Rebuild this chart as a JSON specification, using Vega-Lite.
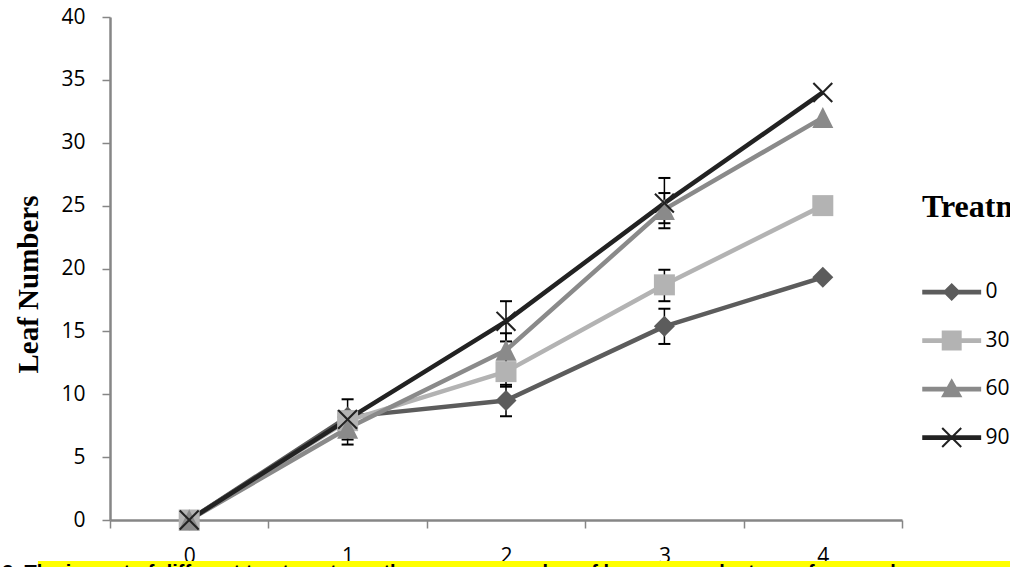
{
  "$schema": "https://vega.github.io/schema/vega-lite/v6.json",
  "autosize": {"type": "none"},
  "width": 792,
  "height": 503,
  "padding": {"left": 110, "top": 17, "right": 108, "bottom": 47},
  "background": "white",
  "config": {
    "view": {"stroke": null},
    "axis": {"grid": false, "domainColor": "#868686", "domainWidth": 2.5, "tickColor": "#868686", "tickWidth": 1.5, "tickSize": 8, "labelFont": "Open Sans", "labelFontSize": 21, "labelColor": "#000000"}
  },
  "datasets": {
    "leaves": [
      {"treatment": "0", "week": 0, "leaves": 0, "lo": null, "hi": null},
      {"treatment": "0", "week": 1, "leaves": 8.2, "lo": null, "hi": null},
      {"treatment": "0", "week": 2, "leaves": 9.5, "lo": 8.25, "hi": 10.75},
      {"treatment": "0", "week": 3, "leaves": 15.4, "lo": 14.0, "hi": 16.8},
      {"treatment": "0", "week": 4, "leaves": 19.3, "lo": null, "hi": null},
      {"treatment": "30", "week": 0, "leaves": 0, "lo": null, "hi": null},
      {"treatment": "30", "week": 1, "leaves": 7.9, "lo": null, "hi": null},
      {"treatment": "30", "week": 2, "leaves": 11.8, "lo": 10.6, "hi": 13.0},
      {"treatment": "30", "week": 3, "leaves": 18.7, "lo": 17.4, "hi": 19.9},
      {"treatment": "30", "week": 4, "leaves": 25.0, "lo": null, "hi": null},
      {"treatment": "60", "week": 0, "leaves": 0, "lo": null, "hi": null},
      {"treatment": "60", "week": 1, "leaves": 7.3, "lo": 6.0, "hi": 8.6},
      {"treatment": "60", "week": 2, "leaves": 13.5, "lo": 12.2, "hi": 14.85},
      {"treatment": "60", "week": 3, "leaves": 24.7, "lo": 23.6, "hi": 26.0},
      {"treatment": "60", "week": 4, "leaves": 32.0, "lo": null, "hi": null},
      {"treatment": "90", "week": 0, "leaves": 0, "lo": null, "hi": null},
      {"treatment": "90", "week": 1, "leaves": 8.0, "lo": 6.4, "hi": 9.6},
      {"treatment": "90", "week": 2, "leaves": 15.8, "lo": 14.2, "hi": 17.4},
      {"treatment": "90", "week": 3, "leaves": 25.2, "lo": 23.2, "hi": 27.2},
      {"treatment": "90", "week": 4, "leaves": 34.0, "lo": null, "hi": null}
    ],
    "caption": [
      {"text": "3. The impact of different treatments on the average number of leaves per plant over four weeks"}
    ]
  },
  "data": {"name": "leaves"},
  "layer": [
    {
      "mark": {"type": "line", "strokeWidth": 4.5, "strokeJoin": "round"},
      "encoding": {
        "x": {
          "field": "week", "type": "quantitative",
          "scale": {"domain": [-0.5, 4.5], "nice": false, "zero": false},
          "axis": {
            "title": null,
            "values": [-0.5, 0.5, 1.5, 2.5, 3.5, 4.5],
            "labelExpr": "datum.value > 4 ? '' : format(datum.value + 0.5, 'd')",
            "labelOffset": 79.2,
            "labelPadding": 17.5,
            "labelFlush": false,
            "labelOverlap": false,
            "labelBound": false
          }
        },
        "y": {
          "field": "leaves", "type": "quantitative",
          "scale": {"domain": [0, 40], "nice": false},
          "axis": {
            "title": "Leaf Numbers",
            "values": [0, 5, 10, 15, 20, 25, 30, 35, 40],
            "labelPadding": 17,
            "titleFont": "Liberation Serif",
            "titleFontSize": 29,
            "titleFontWeight": "bold",
            "titleColor": "#000000",
            "titleAngle": -90,
            "titleBaseline": "alphabetic",
            "titleAlign": "center",
            "titleX": -73,
            "titleY": 267
          }
        },
        "color": {
          "field": "treatment", "type": "nominal",
          "scale": {"domain": ["0", "30", "60", "90"], "range": ["#5c5c5c", "#b3b3b3", "#8a8a8a", "#222222"]},
          "legend": null
        }
      }
    },
    {
      "transform": [{"filter": "isValid(datum.lo)"}],
      "mark": {"type": "rule", "color": "#000000", "strokeWidth": 1.5},
      "encoding": {
        "x": {"field": "week", "type": "quantitative"},
        "y": {"field": "lo", "type": "quantitative"},
        "y2": {"field": "hi"}
      }
    },
    {
      "transform": [{"filter": "isValid(datum.lo)"}],
      "mark": {"type": "tick", "orient": "horizontal", "color": "#000000", "size": 12, "thickness": 2, "opacity": 1},
      "encoding": {
        "x": {"field": "week", "type": "quantitative"},
        "y": {"field": "lo", "type": "quantitative"}
      }
    },
    {
      "transform": [{"filter": "isValid(datum.hi)"}],
      "mark": {"type": "tick", "orient": "horizontal", "color": "#000000", "size": 12, "thickness": 2, "opacity": 1},
      "encoding": {
        "x": {"field": "week", "type": "quantitative"},
        "y": {"field": "hi", "type": "quantitative"}
      }
    },
    {
      "mark": {"type": "point", "filled": true, "opacity": 1, "size": 441, "strokeWidth": 0},
      "encoding": {
        "x": {"field": "week", "type": "quantitative"},
        "y": {"field": "leaves", "type": "quantitative"},
        "color": {"field": "treatment", "type": "nominal", "legend": null},
        "shape": {
          "field": "treatment", "type": "nominal",
          "scale": {
            "domain": ["0", "30", "60", "90"],
            "range": [
              "M0,-1L1,0L0,1L-1,0Z",
              "M-1,-1L1,-1L1,1L-1,1Z",
              "M0,-1L1,1L-1,1Z",
              "M0,-0.14L0.83,-0.97L0.97,-0.83L0.14,0L0.97,0.83L0.83,0.97L0,0.14L-0.83,0.97L-0.97,0.83L-0.14,0L-0.97,-0.83L-0.83,-0.97Z"
            ]
          },
          "legend": null
        }
      }
    },
    {
      "transform": [{"filter": "false"}],
      "mark": {"type": "point", "filled": true},
      "encoding": {
        "x": {"field": "week", "type": "quantitative"},
        "y": {"field": "leaves", "type": "quantitative"},
        "color": {
          "field": "treatment", "type": "nominal",
          "legend": {
            "title": "Treatment",
            "orient": "none",
            "direction": "vertical",
            "legendX": 812,
            "legendY": 175,
            "padding": 0,
            "titlePadding": 44,
            "rowPadding": 14.5,
            "labelOffset": 15.5,
            "symbolSize": 2256,
            "symbolStrokeWidth": 0,
            "symbolOpacity": 1,
            "titleFont": "Liberation Serif",
            "titleFontSize": 32,
            "titleFontWeight": "bold",
            "titleColor": "#000000",
            "titleLimit": 400,
            "labelFont": "Open Sans",
            "labelFontSize": 21,
            "labelColor": "#000000"
          }
        },
        "shape": {
          "field": "treatment", "type": "nominal",
          "scale": {
            "domain": ["0", "30", "60", "90"],
            "range": [
              "M-1,-0.1L1.48,-0.1L1.48,0.1L-1,0.1Z M0.24,-0.38L0.62,0L0.24,0.38L-0.14,0Z",
              "M-1,-0.1L1.48,-0.1L1.48,0.1L-1,0.1Z M-0.18,-0.42L0.66,-0.42L0.66,0.42L-0.18,0.42Z",
              "M-1,-0.1L1.48,-0.1L1.48,0.1L-1,0.1Z M0.24,-0.45L0.69,0.35L-0.21,0.35Z",
              "M-1,-0.1L1.48,-0.1L1.48,0.1L-1,0.1Z M0.24,-0.06L0.61,-0.43L0.67,-0.37L0.3,0L0.67,0.37L0.61,0.43L0.24,0.06L-0.13,0.43L-0.19,0.37L0.18,0L-0.19,-0.37L-0.13,-0.43Z"
            ]
          },
          "legend": {
            "title": "Treatment",
            "orient": "none",
            "direction": "vertical",
            "legendX": 812,
            "legendY": 175,
            "padding": 0,
            "titlePadding": 44,
            "rowPadding": 14.5,
            "labelOffset": 15.5,
            "symbolSize": 2256,
            "symbolStrokeWidth": 0,
            "symbolOpacity": 1,
            "titleFont": "Liberation Serif",
            "titleFontSize": 32,
            "titleFontWeight": "bold",
            "titleColor": "#000000",
            "titleLimit": 400,
            "labelFont": "Open Sans",
            "labelFontSize": 21,
            "labelColor": "#000000"
          }
        }
      }
    },
    {
      "data": {"name": "caption"},
      "mark": {"type": "rect", "color": "#ffff00"},
      "encoding": {
        "x": {"datum": -0.955, "type": "quantitative"},
        "x2": {"datum": 5.3},
        "y": {"datum": -3.26, "type": "quantitative"},
        "y2": {"datum": -5}
      }
    },
    {
      "data": {"name": "caption"},
      "mark": {"type": "text", "align": "left", "baseline": "alphabetic", "font": "Liberation Sans", "fontSize": 20, "fontWeight": "bold", "color": "#000000"},
      "encoding": {
        "x": {"datum": -1.18, "type": "quantitative"},
        "y": {"datum": -4.7, "type": "quantitative"},
        "text": {"field": "text"}
      }
    }
  ],
  "resolve": {
    "scale": {"shape": "independent"},
    "legend": {"color": "independent", "shape": "independent"}
  }
}
